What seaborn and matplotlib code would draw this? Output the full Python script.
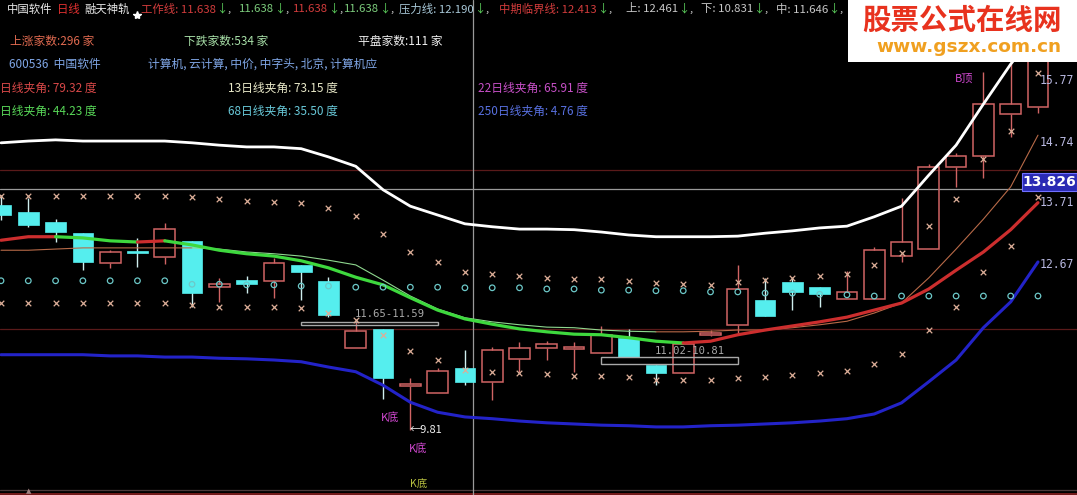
import numpy as np
import matplotlib
matplotlib.use("Agg")
import matplotlib.pyplot as plt
import seaborn as sns
from matplotlib.patches import Rectangle
from matplotlib.lines import Line2D

# ---------------- data ----------------
idx = list(range(39))
open_ = [13.64,13.52,13.35,13.16,12.65,12.86,12.75,13.03,12.24,12.36,
         12.35,12.62,12.35,11.20,11.53,10.56,10.44,10.86,10.63,11.02,
         11.20,11.19,11.12,11.38,10.91,10.78,11.43,11.60,12.02,12.33,
         12.24,12.04,12.04,12.77,12.89,14.29,14.48,15.19,15.31]
high = [13.81,13.76,13.40,13.16,12.87,13.08,13.33,13.03,12.40,12.43,
        12.74,12.62,12.41,11.66,11.53,10.69,10.86,11.17,11.22,11.31,
        11.32,11.31,11.58,11.53,10.91,11.27,11.51,12.62,12.40,12.40,
        12.24,12.52,12.93,13.76,14.34,14.53,15.91,16.20,16.88]
low = [13.39,13.27,13.01,12.53,12.57,12.58,12.64,11.90,11.99,12.14,
       12.06,12.02,11.73,11.20,10.34,9.81,10.44,10.57,10.32,10.80,
       11.00,10.80,11.12,11.05,10.57,10.78,11.41,11.46,11.75,11.85,
       11.90,12.04,12.04,12.67,12.89,13.95,14.10,14.80,15.21]
close = [13.47,13.30,13.18,12.67,12.84,12.82,13.23,12.14,12.29,12.29,
         12.65,12.50,11.77,11.49,10.69,10.59,10.81,10.63,11.17,11.20,
         11.27,11.22,11.43,11.05,10.78,11.27,11.46,12.21,11.75,12.16,
         12.12,12.16,12.87,13.01,14.29,14.48,15.36,15.36,16.37]

upper_band = [14.70,14.73,14.75,14.73,14.73,14.73,14.73,14.70,14.66,14.63,
              14.63,14.60,14.46,14.30,13.90,13.62,13.47,13.32,13.27,13.23,
              13.23,13.22,13.18,13.13,13.10,13.10,13.10,13.11,13.16,13.20,
              13.25,13.28,13.44,13.62,14.15,14.66,15.36,16.04,16.62]
lower_band = [11.09,11.09,11.09,11.09,11.07,11.07,11.05,11.05,11.03,11.02,
              11.00,10.97,10.88,10.80,10.57,10.28,10.11,10.03,10.00,9.96,
              9.93,9.91,9.89,9.88,9.86,9.86,9.88,9.89,9.91,9.93,
              9.96,10.00,10.08,10.27,10.63,11.00,11.55,11.99,12.67]
ma_thick = [13.04,13.10,13.10,13.08,13.03,13.01,13.03,12.96,12.87,12.81,
            12.77,12.69,12.57,12.41,12.28,12.06,11.85,11.70,11.61,11.53,
            11.48,11.44,11.43,11.38,11.32,11.29,11.32,11.43,11.51,11.58,
            11.65,11.73,11.85,11.97,12.21,12.53,12.84,13.22,13.68]
ma_thin = [12.87,12.87,12.89,12.91,12.91,12.91,12.91,12.91,12.89,12.84,
           12.81,12.77,12.70,12.62,12.36,12.09,11.87,11.72,11.65,11.60,
           11.56,11.55,11.51,11.49,11.48,11.48,11.49,11.51,11.51,11.55,
           11.60,11.66,11.80,11.97,12.40,12.89,13.40,13.95,14.83]
sig_upper = [13.80,13.80,13.80,13.80,13.80,13.80,13.80,13.78,13.74,13.71,
             13.69,13.68,13.59,13.45,13.15,12.84,12.67,12.50,12.47,12.43,
             12.40,12.38,12.38,12.35,12.31,12.30,12.28,12.33,12.36,12.40,
             12.43,12.47,12.62,12.82,13.28,13.74,14.42,14.90,15.89]
sig_lower = [11.97,11.97,11.97,11.97,11.97,11.97,11.97,11.94,11.90,11.90,
             11.90,11.89,11.80,11.68,11.43,11.15,11.00,10.83,10.80,10.78,
             10.76,10.73,10.73,10.71,10.66,10.66,10.66,10.69,10.71,10.74,
             10.78,10.81,10.93,11.10,11.51,11.90,12.50,12.94,13.78]
sig_mid = [12.35,12.35,12.35,12.35,12.35,12.35,12.35,12.29,12.29,12.28,
           12.28,12.26,12.26,12.24,12.24,12.24,12.24,12.23,12.23,12.23,
           12.21,12.21,12.19,12.19,12.18,12.18,12.16,12.16,12.14,12.14,
           12.12,12.11,12.09,12.09,12.09,12.09,12.09,12.09,12.09]

cross_price = 13.91
cross_index = 17.30
level_lines = [14.24, 11.53]
zone1 = (11.59, 11.65, 11.0, 16.0, "11.65-11.59")
zone2 = (10.93, 11.05, 22.0, 27.0, "11.02-10.81")
right_labels = [("15.77", 15.77), ("14.74", 14.71), ("13.71", 13.675), ("12.67", 12.635)]

# ---------------- style ----------------
sns.set_theme(style="dark", rc={"axes.facecolor": "black", "figure.facecolor": "black",
                                "axes.grid": False})
plt.rcParams['font.family'] = ['Noto Sans CJK SC', 'DejaVu Sans']
plt.rcParams['axes.unicode_minus'] = False

W, H = 1077, 495
fig = plt.figure(figsize=(W / 100, H / 100), dpi=100)
ax = fig.add_axes([0, 0, 1, 1])
ax.set_facecolor("black")
ax.set_xlim(-0.037, 39.43)
ax.set_ylim(8.70, 17.133)
ax.set_xticks([]); ax.set_yticks([])
for s in ax.spines.values():
    s.set_visible(False)

# reference lines
for lv in level_lines:
    ax.axhline(lv, color="#5a1a1a", lw=0.9, zorder=1)
ax.axhline(8.79, color="#4a3a3a", lw=0.9, zorder=1)
ax.axhline(8.715, color="#8a2020", lw=1.2, zorder=1)
ax.axhline(cross_price, color="#9a9a9a", lw=0.9, zorder=1)
ax.axvline(cross_index, color="#9a9a9a", lw=0.9, zorder=1)

# candles
RED = "#d06464"
CYAN = "#55eeee"
CWICK = "#cfeeee"
bw = 0.76
for i in idx:
    o, c, h, l = open_[i], close[i], high[i], low[i]
    top, bot = max(o, c), min(o, c)
    hgt = max(top - bot, 0.025)
    if c >= o:
        ax.vlines(i, top, h, color=RED, lw=1, zorder=2)
        ax.vlines(i, l, bot, color=RED, lw=1, zorder=2)
        ax.add_patch(Rectangle((i - bw / 2, bot), bw, hgt, facecolor="none",
                               edgecolor=RED, lw=1.1, zorder=2))
    else:
        ax.vlines(i, l, h, color=CWICK, lw=1, zorder=2)
        ax.add_patch(Rectangle((i - bw / 2, bot), bw, hgt, facecolor=CYAN,
                               edgecolor=CYAN, lw=0.5, zorder=2))

# zones
for lo, hi, x0, x1, lab in (zone1, zone2):
    ax.add_patch(Rectangle((x0, lo), x1 - x0, hi - lo, facecolor="none",
                           edgecolor="#a8a8a8", lw=1, zorder=3))
ax.text(12.97, 11.79, zone1[4], color="#a8a8a8", fontsize=7.6,
        family="DejaVu Sans Mono", va="center", ha="left", zorder=3)
ax.text(23.97, 11.15, zone2[4], color="#a8a8a8", fontsize=7.6,
        family="DejaVu Sans Mono", va="center", ha="left", zorder=3)

# bands
sns.lineplot(x=idx, y=upper_band, color="white", lw=2.0, ax=ax, legend=False,
             estimator=None, sort=False, zorder=4)
sns.lineplot(x=idx, y=lower_band, color="#2323c8", lw=2.2, ax=ax, legend=False,
             estimator=None, sort=False, zorder=4)

def seg_line(vals, up_col, dn_col, lw, z):
    runs = []
    cur_col, cur = None, []
    for i in range(len(vals) - 1):
        col = up_col if vals[i + 1] >= vals[i] else dn_col
        if col != cur_col:
            if cur:
                runs.append((cur_col, cur))
            cur_col, cur = col, [i]
        cur.append(i + 1)
    runs.append((cur_col, cur))
    for col, pts in runs:
        sns.lineplot(x=pts, y=[vals[p] for p in pts], color=col, lw=lw, ax=ax,
                     legend=False, estimator=None, sort=False, zorder=z)

seg_line(ma_thin, "#b86a48", "#8fd88f", 0.8, 4)
seg_line(ma_thick, "#cc2e2e", "#3ed83e", 2.3, 5)

# signal markers
sns.scatterplot(x=idx, y=sig_upper, marker="x", color="#dcae98", s=16,
                linewidth=0.9, ax=ax, legend=False, zorder=6)
sns.scatterplot(x=idx, y=sig_lower, marker="x", color="#dcae98", s=16,
                linewidth=0.9, ax=ax, legend=False, zorder=6)
sns.scatterplot(x=idx, y=sig_mid, marker="o", facecolor="none", edgecolor="#6cc8c8",
                s=16, linewidth=0.9, ax=ax, legend=False, zorder=6)

# annotations on the chart
MAG = "#d048d0"
ax.text(14.25, 10.03, "K底", color=MAG, fontsize=8, ha="center", va="center", zorder=7)
ax.text(15.3, 9.50, "K底", color=MAG, fontsize=8, ha="center", va="center", zorder=7)
ax.text(14.99, 9.81, "←9.81", color="#f0f0f0", fontsize=8, ha="left", va="center", zorder=7)
ax.text(15.3, 8.89, "K底", color="#b8c040", fontsize=7.5, ha="center", va="center", zorder=7)
ax.text(35.3, 15.80, "B顶", color=MAG, fontsize=8, ha="center", va="center", zorder=7)
ax.text(1.0, 8.76, "▲", color="#a08080", fontsize=5, ha="center", va="center",
        family="DejaVu Sans", zorder=7)
for lab, yv in right_labels:
    ax.text(38.07, yv, lab, color="#b8b8e0", fontsize=8.3, family="DejaVu Sans Mono",
            ha="left", va="center", zorder=7)

# crosshair price tag
fig.patches.append(Rectangle((1022 / W, 1 - 191 / H), 55 / W, 18 / H,
                             transform=fig.transFigure, facecolor="#2a2ab4",
                             edgecolor="#7070ff", lw=0.8, zorder=8))
fig.text(1049.5 / W, 1 - 182 / H, "13.826", color="white", fontsize=10,
         fontweight="bold", family="DejaVu Sans", ha="center", va="center", zorder=9)

# ---------------- header texts ----------------
fig.canvas.draw()
rend = fig.canvas.get_renderer()

def row(x0, y0, pieces, size=8.5):
    xp = x0
    for txt, col in pieces:
        t = fig.text(xp / W, 1 - y0 / H, txt, color=col, fontsize=size,
                     ha="left", va="center", zorder=9)
        xp += t.get_window_extent(renderer=rend).width

WT = "#e8e8e8"; RT = "#d23c3c"; GT = "#7ccc7c"; AR = "#5cd05c"
LB = "#a8c8d8"; LG = "#c8c8c8"
Y1 = 9
row(7, Y1, [("中国软件", WT)], 8.2)
row(57, Y1, [("日线", "#e03030")], 8.2)
row(84, Y1, [("融天神轨", WT)], 8.2)
row(141, Y1, [("工作线: 11.638", RT), ("↓", AR), (",", WT)], 8.2)
row(239, Y1, [("11.638", GT), ("↓", AR), (",", WT)], 8.2)
row(293, Y1, [("11.638", RT), ("↓", AR), (",", WT)], 8.2)
row(344, Y1, [("11.638", GT), ("↓", AR), (",", WT)], 8.2)
row(399, Y1, [("压力线: 12.190", LB), ("↓", AR), (",", WT)], 8.2)
row(499, Y1, [("中期临界线: 12.413", RT), ("↓", AR), (",", WT)], 8.2)
row(626, Y1, [("上: 12.461", LG), ("↓", AR), (",", WT)], 8.2)
row(701, Y1, [("下: 10.831", LG), ("↓", AR), (",", WT)], 8.2)
row(776, Y1, [("中: 11.646", LG), ("↓", AR), (",", WT)], 8.2)
fig.add_artist(Line2D([137 / W], [1 - 15 / H], marker="*", markersize=6,
                      color="white", transform=fig.transFigure, zorder=9))

row(10, 41, [("上涨家数:296 家", "#e06a50")])
row(184, 41, [("下跌家数:534 家", "#a8e0a8")])
row(358, 41, [("平盘家数:111 家", "#f0f0f0")])

row(9, 64, [("600536  中国软件", "#7fa6e6")])
row(148, 64, [("计算机, 云计算, 中价, 中字头, 北京, 计算机应", "#7fa6e6")])

row(0, 88, [("日线夹角: 79.32 度", "#d84848")])
row(228, 88, [("13日线夹角: 73.15 度", "#e8e8c8")])
row(478, 88, [("22日线夹角: 65.91 度", "#c850c8")])
row(0, 111, [("日线夹角: 44.23 度", "#58d858")])
row(228, 111, [("68日线夹角: 35.50 度", "#68c8d8")])
row(478, 111, [("250日线夹角: 4.76 度", "#5870e0")])

# watermark
fig.patches.append(Rectangle((848 / W, 1 - 62 / H), 229 / W, 62 / H,
                             transform=fig.transFigure, facecolor="white",
                             edgecolor="none", zorder=10))
fig.text(962 / W, 1 - 21 / H, "股票公式在线网", color="#e8321e", fontsize=20.5,
         fontweight="bold", ha="center", va="center", zorder=11)
fig.text(969 / W, 1 - 47 / H, "www.gszx.com.cn", color="#f0a020", fontsize=13.3,
         fontweight="bold", family="DejaVu Sans", ha="center", va="center", zorder=11)

fig.savefig("out.png", dpi=100, facecolor="black")
